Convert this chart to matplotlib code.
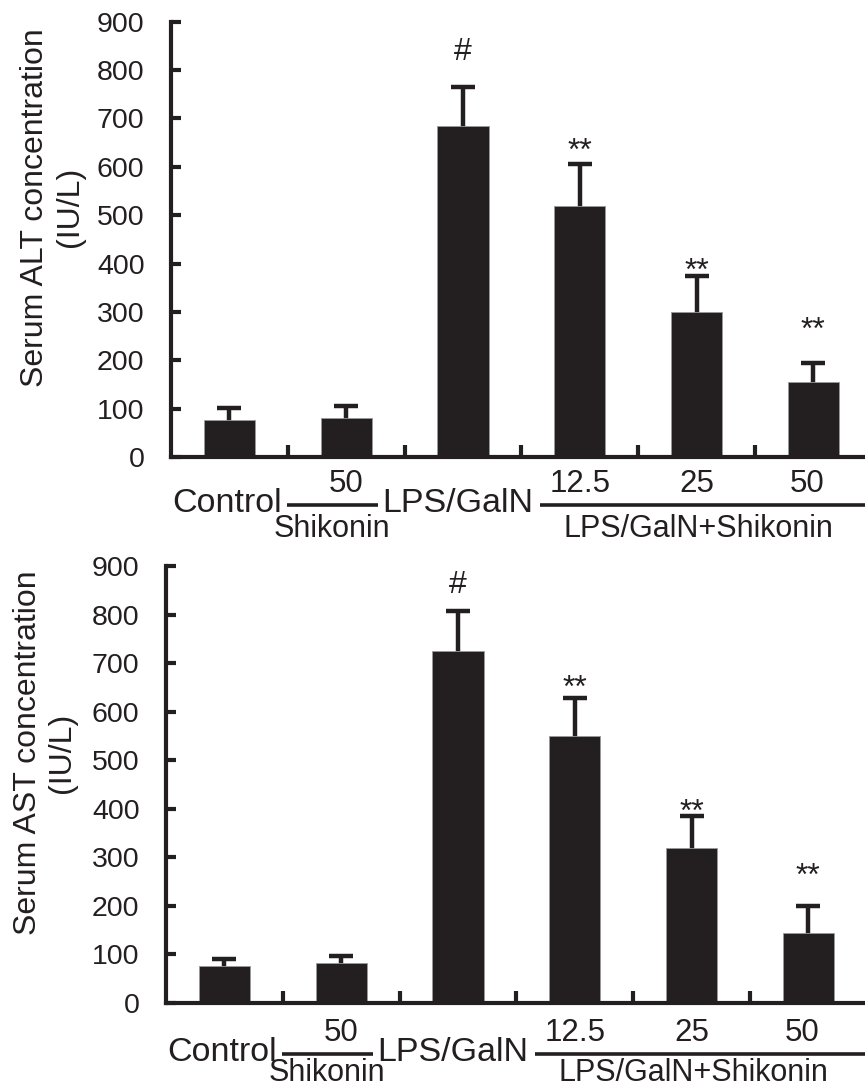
import numpy as np
import matplotlib
matplotlib.use('Agg')
import matplotlib.pyplot as plt

plt.rcParams['font.family'] = ['Liberation Sans', 'DejaVu Sans']

# Data (IU/L)
groups = ['Control', 'Shikonin 50', 'LPS/GalN', 'LPS/GalN+Shikonin 12.5',
          'LPS/GalN+Shikonin 25', 'LPS/GalN+Shikonin 50']
alt_mean = [77, 81, 684, 519, 300, 155]
alt_err = [25, 24, 81, 87, 74, 39]
ast_mean = [76, 82, 725, 550, 319, 144]
ast_err = [14, 15, 83, 78, 66, 56]

sig_labels = ['#', '**', '**', '**']
sig_groups = [2, 3, 4, 5]
alt_sig_y = [820, 614, 366, 244]
ast_sig_y = [844, 630, 375, 243]

dose_labels = ['50', '12.5', '25', '50']
dose_groups = [1, 3, 4, 4.95]

ink = '#231f20'
W, H = 865, 1088

fig = plt.figure(figsize=(W / 100, H / 100), dpi=100)


def panel(left_px, zero_px, top_px, means, errs, sig_y, ylab, ylab_xy, drops):
    px_per_cat = 116.8
    ax = fig.add_axes([left_px / W, 1 - zero_px / H,
                       (W - left_px) / W, (zero_px - top_px) / H])
    x = np.arange(len(means))
    ax.errorbar(x, means, yerr=errs, fmt='none', ecolor=ink, elinewidth=3.2,
                capsize=8.5, capthick=3.2, zorder=1)
    ax.bar(x, means, width=0.44, color=ink, edgecolor='#9a9a9a',
           linewidth=0.6, zorder=2)

    ax.set_xlim(-0.5, -0.5 + (W - left_px) / px_per_cat)
    ax.set_ylim(0, 900)
    ax.set_yticks(np.arange(0, 901, 100))
    ax.set_xticks(np.arange(0.5, 5, 1))
    ax.set_xticklabels([])
    for s in ['top', 'right']:
        ax.spines[s].set_visible(False)
    for s in ['left', 'bottom']:
        ax.spines[s].set_linewidth(3)
        ax.spines[s].set_color(ink)
    ax.tick_params(axis='y', direction='in', length=7, width=3, color=ink,
                   labelsize=20.5, pad=19, labelcolor=ink)
    ax.tick_params(axis='x', direction='in', length=8.5, width=3, color=ink)

    ax.set_ylabel(ylab, fontsize=23, color=ink, multialignment='center')
    ax.yaxis.set_label_coords(*ylab_xy)

    for lab, g, yy in zip(sig_labels, sig_groups, sig_y):
        ax.text(g, yy, lab, ha='center', va='baseline', fontsize=23, color=ink)

    # group labels under the axis
    tr = ax.get_xaxis_transform()
    h = zero_px - top_px
    d_big, d_num, d_sub, d_line = drops

    def fy(drop):
        return -drop / h
    ax.text(0.45, fy(d_big), 'Control', transform=tr, ha='right',
            va='baseline', fontsize=24.5, color=ink, clip_on=False)
    ax.text(1.31, fy(d_big), 'LPS/GalN', transform=tr, ha='left',
            va='baseline', fontsize=24.5, color=ink, clip_on=False)
    for lab, g in zip(dose_labels, dose_groups):
        ax.text(g, fy(d_num), lab, transform=tr, ha='center', va='baseline',
                fontsize=22.5, color=ink, clip_on=False)
    ax.text(0.88, fy(d_sub), 'Shikonin', transform=tr, ha='center',
            va='baseline', fontsize=22, color=ink, clip_on=False)
    ax.text(4.02, fy(d_sub), 'LPS/GalN+Shikonin', transform=tr, ha='center',
            va='baseline', fontsize=22, color=ink, clip_on=False)
    ax.plot([0.49, 1.27], [fy(d_line), fy(d_line)], transform=tr, color=ink,
            lw=2.6, clip_on=False, solid_capstyle='butt')
    ax.plot([2.66, 5.6], [fy(d_line), fy(d_line)], transform=tr, color=ink,
            lw=2.6, clip_on=False, solid_capstyle='butt')
    return ax


panel(171, 457, 21.7, alt_mean, alt_err, alt_sig_y,
      'Serum ALT concentration\n(IU/L)', (-0.124, 0.574), (55, 35, 80, 48))
panel(166, 1003, 566, ast_mean, ast_err, ast_sig_y,
      'Serum AST concentration\n(IU/L)', (-0.127, 0.572), (58, 38, 78, 51))

fig.savefig('out.png', dpi=100)
